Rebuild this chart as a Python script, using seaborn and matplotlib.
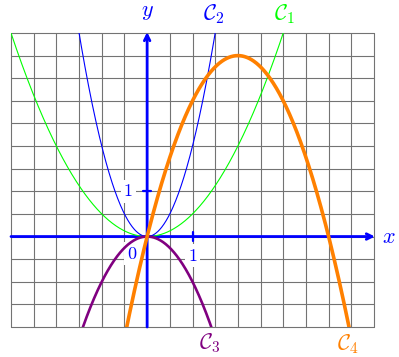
import numpy as np
import matplotlib
matplotlib.use("Agg")
import matplotlib.pyplot as plt
import seaborn as sns

# window of the drawing, in axis units
x_min, x_max = -3, 5
y_min, y_max = -2, 4.5
grid_step = 0.5

# curve coefficients (a, b, c) for a*x^2 + b*x + c
c1_coef = [0.5, 0, 0]
c2_coef = [2, 0, 0]
c3_coef = [-1, 0, 0]
c4_coef = [-1, 4, 0]

curve_names = [r"$\mathcal{C}_1$", r"$\mathcal{C}_2$", r"$\mathcal{C}_3$", r"$\mathcal{C}_4$"]
curve_colors = ["#00ff00", "#0000ff", "#800080", "#ff8000"]
curve_widths = [0.8, 0.8, 1.9, 2.6]
label_pos = [(3.02, 4.92), (1.48, 4.92), (1.38, -2.35), (4.42, -2.38)]

sns.set_style("white")
plt.rcParams["mathtext.fontset"] = "cm"
plt.rcParams["font.family"] = ["DejaVu Serif"]

fig = plt.figure(figsize=(3.99, 3.57), dpi=100)
ax = fig.add_axes([11 / 399, 30 / 357, 363 / 399, 294 / 357])
ax.set_xlim(x_min, x_max)
ax.set_ylim(y_min, y_max)

# grid
for gx in np.arange(x_min, x_max + 0.01, grid_step):
    ax.plot([gx, gx], [y_min, y_max], color="0.45", lw=0.8, zorder=1, clip_on=False)
for gy in np.arange(y_min, y_max + 0.01, grid_step):
    ax.plot([x_min, x_max], [gy, gy], color="0.45", lw=0.8, zorder=1, clip_on=False)

# curves
xs = np.linspace(x_min, x_max, 801)
for coef, col, lw in zip([c1_coef, c2_coef, c3_coef, c4_coef], curve_colors, curve_widths):
    ys = np.polyval(coef, xs)
    keep = (ys >= y_min - 0.3) & (ys <= y_max + 0.3)
    sns.lineplot(x=xs[keep], y=ys[keep], color=col, lw=lw, ax=ax, sort=False, zorder=4)

# axes with arrows
ax.annotate("", xy=(x_max + 0.02, 0), xytext=(x_min, 0),
            arrowprops=dict(arrowstyle="->", color="#0000ff", lw=2, shrinkA=0, shrinkB=0),
            annotation_clip=False, zorder=3)
ax.annotate("", xy=(0, y_max + 0.02), xytext=(0, y_min),
            arrowprops=dict(arrowstyle="->", color="#0000ff", lw=2, shrinkA=0, shrinkB=0),
            annotation_clip=False, zorder=3)
ax.plot([1, 1], [-0.09, 0.09], color="#0000ff", lw=1.6, zorder=3)
ax.plot([-0.09, 0.09], [1, 1], color="#0000ff", lw=1.6, zorder=3)

box = dict(boxstyle="square,pad=0.15", fc="white", ec="none")
ax.text(1, -0.42, r"$1$", color="#0000ff", fontsize=13, ha="center", va="center", bbox=box, zorder=2)
ax.text(-0.42, 1, r"$1$", color="#0000ff", fontsize=13, ha="center", va="center", bbox=box, zorder=2)
ax.text(-0.33, -0.38, r"$0$", color="#0000ff", fontsize=13, ha="center", va="center", bbox=box, zorder=2)
ax.text(5.33, 0, r"$x$", color="#0000ff", fontsize=16, ha="center", va="center", clip_on=False)
ax.text(0, 4.98, r"$y$", color="#0000ff", fontsize=16, ha="center", va="center", clip_on=False)

for name, col, (lx, ly) in zip(curve_names, curve_colors, label_pos):
    ax.text(lx, ly, name, color=col, fontsize=16, ha="center", va="center", clip_on=False)

ax.set_axis_off()
fig.savefig("out.png", dpi=100)
